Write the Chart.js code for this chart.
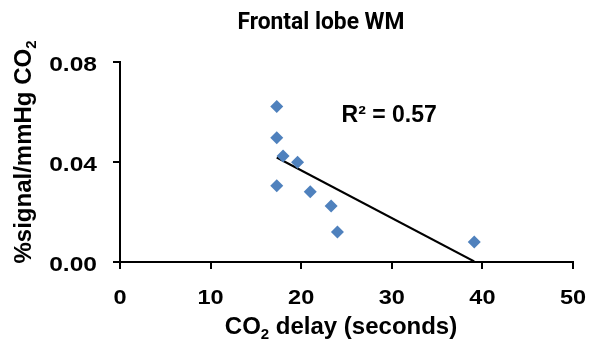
<!DOCTYPE html>
<html>
<head>
<meta charset="utf-8">
<script src="https://cdn.jsdelivr.net/npm/chart.js@4"></script>
<style>
  html, body { margin: 0; padding: 0; background: #fff; }
  #wrap { width: 592px; height: 343px; position: relative; }
</style>
</head>
<body>
<div id="wrap"><canvas id="chart" width="592" height="343"></canvas></div>
<script>
// Values
const delay = [17.3, 17.3, 18.0, 19.6, 17.3, 21.0, 23.3, 24.0, 39.1];
const signal = [0.0622, 0.0497, 0.0424, 0.0399, 0.0305, 0.0281, 0.0224, 0.0120, 0.0080];
const trendX = [17.3, 39.1];
const trendY = [0.0418, 0.0002];
const xTicks = [0, 10, 20, 30, 40, 50];
const yTicks = [0, 0.04, 0.08];
const yTickLabels = ['0.00', '0.04', '0.08'];
const rSquared = '0.57';

const AXIS_FONT = '"Liberation Sans", Arial, sans-serif';

// text drawn with a horizontal stretch (the reference text is a bit wide)
function stretchText(ctx, text, x, y, sx, align) {
  const w = ctx.measureText(text).width * sx;
  let left = x;
  if (align === 'center') left = x - w / 2;
  if (align === 'right') left = x - w;
  ctx.save();
  ctx.translate(left, y);
  ctx.scale(sx, 1);
  ctx.textAlign = 'left';
  ctx.fillText(text, 0, 0);
  ctx.restore();
}

// draw text made of [text, isSubscript] parts, centred on x
function drawParts(ctx, parts, x, y, size) {
  const fontFor = p => `bold ${p[1] ? Math.round(size * 0.62) : size}px ${AXIS_FONT}`;
  const widths = parts.map(p => { ctx.font = fontFor(p); return ctx.measureText(p[0]).width; });
  const total = widths.reduce((a, b) => a + b, 0);
  let cx = x - total / 2;
  ctx.textAlign = 'left';
  parts.forEach((p, i) => {
    ctx.font = fontFor(p);
    ctx.fillText(p[0], cx, p[1] ? y + size * 0.2 : y);
    cx += widths[i];
  });
}

const labelsPlugin = {
  id: 'labels',
  afterDraw(chart) {
    const ctx = chart.ctx;
    const xs = chart.scales.x;
    const ys = chart.scales.y;
    ctx.save();
    ctx.fillStyle = '#000';

    // title (Calibri-like, narrow and heavy)
    ctx.font = 'bold 24px Roboto, "Open Sans", sans-serif';
    ctx.textBaseline = 'alphabetic';
    const tw = ctx.measureText('Frontal lobe WM').width;
    stretchText(ctx, 'Frontal lobe WM', 321, 29, 167 / tw, 'center');

    // tick labels
    ctx.font = `bold 21px ${AXIS_FONT}`;
    ctx.textBaseline = 'middle';
    xTicks.forEach(v => stretchText(ctx, String(v), xs.getPixelForValue(v), 298, 1.12, 'center'));
    yTicks.forEach((v, i) => stretchText(ctx, yTickLabels[i], 97, ys.getPixelForValue(v) + 3, 1.17, 'right'));

    // x axis title
    ctx.textBaseline = 'alphabetic';
    drawParts(ctx, [['CO', false], ['2', true], [' delay (seconds)', false]], 341, 334, 24);

    // y axis title
    ctx.save();
    ctx.translate(31, 152);
    ctx.rotate(-Math.PI / 2);
    drawParts(ctx, [['%signal/mmHg CO', false], ['2', true]], 0, 0, 24);
    ctx.restore();

    // R squared annotation
    ctx.font = `bold 23px ${AXIS_FONT}`;
    ctx.textAlign = 'left';
    ctx.fillText('R² = ' + rSquared, xs.getPixelForValue(24.45), ys.getPixelForValue(0.0561));
    ctx.restore();
  }
};

new Chart(document.getElementById('chart'), {
  type: 'scatter',
  data: {
    datasets: [
      {
        label: 'Trend',
        type: 'line',
        data: trendX.map((x, i) => ({ x: x, y: trendY[i] })),
        borderColor: '#000',
        borderWidth: 2,
        pointRadius: 0,
        fill: false,
        order: 2
      },
      {
        label: 'Frontal lobe WM',
        data: delay.map((x, i) => ({ x: x, y: signal[i] })),
        pointStyle: 'rectRot',
        pointRadius: 6.5,
        backgroundColor: '#4F81BD',
        borderColor: '#4F81BD',
        borderWidth: 0,
        order: 1
      }
    ]
  },
  options: {
    responsive: false,
    animation: false,
    layout: { padding: { top: 62, right: 19, left: 0, bottom: 0 } },
    plugins: {
      legend: { display: false },
      tooltip: { enabled: false }
    },
    scales: {
      x: {
        type: 'linear',
        min: 0,
        max: 50,
        afterBuildTicks: scale => { scale.ticks = xTicks.map(v => ({ value: v })); },
        afterFit: scale => { scale.height = 81; },
        border: { display: true, color: '#000', width: 2 },
        grid: { drawOnChartArea: false, drawTicks: true, tickLength: 7, color: '#000', lineWidth: 2 },
        ticks: { display: false }
      },
      y: {
        type: 'linear',
        min: 0,
        max: 0.08,
        afterBuildTicks: scale => { scale.ticks = yTicks.map(v => ({ value: v })); },
        afterFit: scale => { scale.width = 120; },
        border: { display: true, color: '#000', width: 2 },
        grid: { drawOnChartArea: false, drawTicks: true, tickLength: 7, color: '#000', lineWidth: 2 },
        ticks: { display: false }
      }
    }
  },
  plugins: [labelsPlugin]
});
</script>
</body>
</html>
